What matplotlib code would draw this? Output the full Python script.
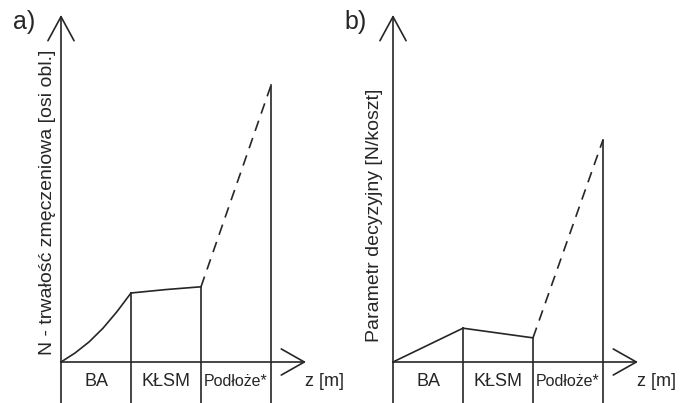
import matplotlib
matplotlib.use("Agg")
import matplotlib.pyplot as plt

plt.rcParams['font.family'] = ['Liberation Sans', 'DejaVu Sans']

# layer boundaries along depth z (BA | KŁSM | Podłoże*)
layers = ['BA', 'KŁSM', 'Podłoże*']
bounds = [0, 1, 2, 3]

# a) N - fatigue life
a_ba_z = [0, 0.2, 0.4, 0.6, 0.8, 1.0]
a_ba_n = [0, 0.13, 0.29, 0.49, 0.73, 1.0]
a_kl_z = [1.0, 1.5, 2.0]
a_kl_n = [1.0, 1.05, 1.09]
a_sub_z = [2.0, 3.0]
a_sub_n = [1.09, 4.01]

# b) decision parameter
b_ba_z = [0, 1.0]
b_ba_n = [0, 0.49]
b_kl_z = [1.0, 2.0]
b_kl_n = [0.49, 0.35]
b_sub_z = [2.0, 3.0]
b_sub_n = [0.35, 3.22]

ylabels = ['N - trwałość zmęczeniowa [osi obl.]', 'Parametr decyzyjny [N/koszt]']
tags = ['a)', 'b)']

W, H = 691, 403
col = '#262626'
lw = 1.2
px_x = 70.0   # pixels per unit z
px_y = 69.0   # pixels per unit N
base_y = 362  # x-axis row in pixels from top

fig = plt.figure(figsize=(W / 100, H / 100), dpi=100)


def panel(left, right, origin, segs, ylab, ylab_pos, tag, tag_x):
    ax = fig.add_axes([left / W, 0, (right - left) / W, 1])
    ax.set_xlim((left - origin) / px_x, (right - origin) / px_x)
    ax.set_ylim((base_y - H) / px_y, base_y / px_y)
    ax.axis('off')
    ybot = (base_y - H) / px_y
    # axes with open arrow heads
    ax.annotate('', xy=(0, 5.03), xytext=(0, ybot),
                arrowprops=dict(arrowstyle='->, head_length=1.73, head_width=0.94',
                                color=col, lw=lw, shrinkA=0, shrinkB=0,
                                mutation_scale=10))
    ax.annotate('', xy=(3.5, 0), xytext=(0, 0),
                arrowprops=dict(arrowstyle='->, head_length=1.66, head_width=0.94',
                                color=col, lw=lw, shrinkA=0, shrinkB=0,
                                mutation_scale=10))
    (z1, n1), (z2, n2), (z3, n3) = segs
    ax.plot(z1, n1, color=col, lw=lw)
    ax.plot(z2, n2, color=col, lw=lw)
    ax.plot(z3, n3, color=col, lw=lw, dashes=(6.5, 4.5))
    tops = [n1[-1], n2[-1], n3[-1]]
    for b, t in zip(bounds[1:], tops):
        ax.plot([b, b], [ybot, t], color=col, lw=lw)
    for i, name in enumerate(layers):
        fs = 11.5 if name == 'Podłoże*' else 13
        ax.text((bounds[i] + bounds[i + 1]) / 2, -0.28, name, ha='center',
                va='center', fontsize=fs, color=col)
    ax.text(3.76, -0.28, 'z [m]', ha='center', va='center', fontsize=13, color=col)
    ax.text(ylab_pos[0], ylab_pos[1], ylab, rotation=90, ha='center', va='center',
            fontsize=14, color=col)
    ax.text(tag_x, 4.93, tag, ha='center', va='center', fontsize=18, color=col)
    return ax


panel(0, 345, 61, [(a_ba_z, a_ba_n), (a_kl_z, a_kl_n), (a_sub_z, a_sub_n)],
      ylabels[0], (-0.19, 2.32), tags[0], -0.53)
panel(345, 691, 393, [(b_ba_z, b_ba_n), (b_kl_z, b_kl_n), (b_sub_z, b_sub_n)],
      ylabels[1], (-0.26, 2.12), tags[1], -0.54)

fig.savefig('out.png', dpi=100)
